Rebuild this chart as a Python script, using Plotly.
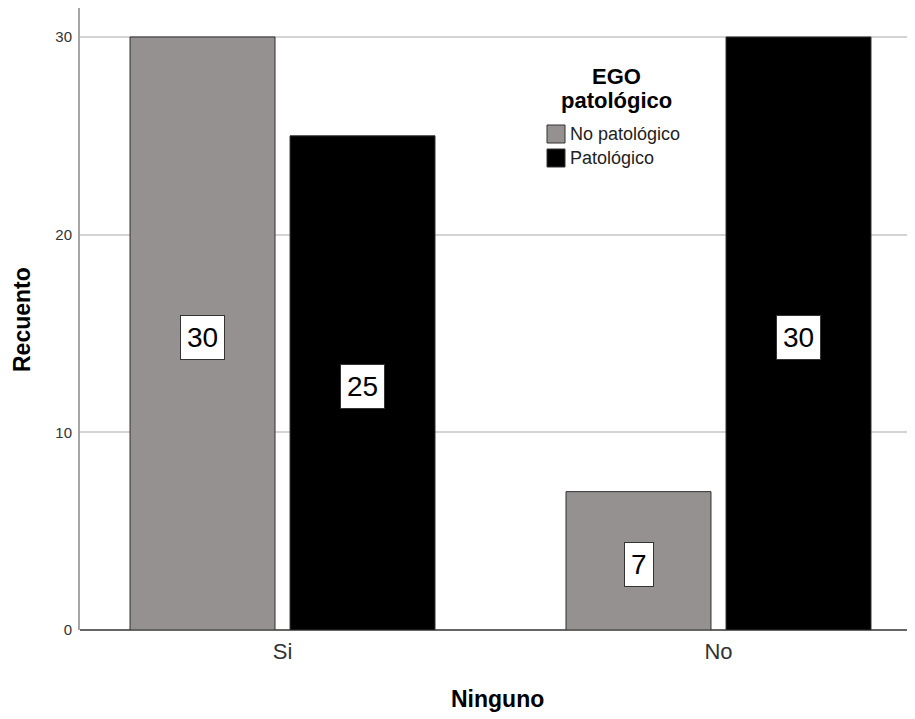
import plotly.graph_objects as go

categories = ["Si", "No"]
series_names = ["No patológico", "Patológico"]
no_patologico = [30, 7]
patologico = [25, 30]
colors = ["#959190", "#000000"]
y_ticks = [0, 10, 20, 30]
legend_title_lines = ["EGO", "patológico"]
x_title = "Ninguno"
y_title = "Recuento"

FONT = "Arial, Liberation Sans, sans-serif"

# page body has an 8px margin; the figure is sized to fit the 915x719 window
W, H = 907, 711
ML, MR, MT, MB = 72, 0, 0, 89
PW, PH = W - ML - MR, H - MT - MB


def px(X):
    """screen x -> paper x"""
    return (X - 8 - ML) / PW


def py(Y):
    """screen y -> paper y"""
    return (H - MB - (Y - 8)) / PH


fig = go.Figure()
for name, vals, col in zip(series_names, [no_patologico, patologico], colors):
    fig.add_trace(go.Bar(
        x=categories, y=vals, name=name, showlegend=False,
        marker=dict(color=col, line=dict(color="#303030", width=1)),
    ))

bargap = 0.266
bargroupgap = 0.094
slot = (1 - bargap) / 2
for i, vals in enumerate([no_patologico, patologico]):
    off = (i - 0.5) * slot
    for j, v in enumerate(vals):
        fig.add_annotation(
            x=j + off, y=v / 2, xref="x", yref="y", yshift=-4,
            text=str(v), showarrow=False,
            font=dict(family=FONT, size=28, color="black"),
            bgcolor="white", bordercolor="#333333", borderwidth=1, borderpad=6,
        )

# legend (drawn manually to match the square swatches)
for line, Y in zip(legend_title_lines, [76, 101]):
    fig.add_annotation(
        x=px(616), y=py(Y), xref="paper", yref="paper",
        text="<b>" + line + "</b>", showarrow=False,
        font=dict(family=FONT, size=22, color="black"),
        xanchor="center", yanchor="middle",
    )
sw_tops = [125, 149]
for name, col, top in zip(series_names, colors, sw_tops):
    fig.add_shape(type="rect", xref="paper", yref="paper",
                  x0=px(547), x1=px(565), y0=py(top + 18), y1=py(top),
                  fillcolor=col, line=dict(color="#333333", width=1))
    fig.add_annotation(x=px(568), y=py(top + 9), xref="paper", yref="paper",
                       text=name, showarrow=False, xanchor="left", yanchor="middle",
                       font=dict(family=FONT, size=18, color="#222"))

# axis titles
fig.add_annotation(x=px(22), y=py(320), xref="paper", yref="paper",
                   text="<b>" + y_title + "</b>", showarrow=False, textangle=-90,
                   font=dict(family=FONT, size=23, color="black"),
                   xanchor="center", yanchor="middle")
fig.add_annotation(x=0.5, y=py(699), xref="paper", yref="paper",
                   text="<b>" + x_title + "</b>", showarrow=False,
                   font=dict(family=FONT, size=23, color="black"),
                   xanchor="center", yanchor="middle")

fig.update_layout(
    width=W, height=H,
    margin=dict(l=ML, r=MR, t=MT, b=MB),
    paper_bgcolor="white", plot_bgcolor="white",
    barmode="group", bargap=bargap, bargroupgap=bargroupgap,
    font=dict(family=FONT, color="black"),
    showlegend=False,
    xaxis=dict(
        type="category", range=[-0.4645, 1.4507], automargin=False,
        showline=False, ticks="", showgrid=False,
        ticklabelstandoff=6,
        tickfont=dict(family=FONT, size=22, color="#333"),
    ),
    yaxis=dict(
        range=[0, PH / 19.767], tickvals=y_ticks, ticktext=[str(t) for t in y_ticks],
        automargin=False,
        showline=True, linecolor="#a6a6a6", linewidth=2,
        showgrid=True, gridcolor="#d4d4d4", gridwidth=1.5,
        zeroline=True, zerolinecolor="#666666", zerolinewidth=1.5,
        ticks="", ticklabelstandoff=3,
        tickfont=dict(family=FONT, size=15, color="#333"),
    ),
)

fig.write_html("out.html")
